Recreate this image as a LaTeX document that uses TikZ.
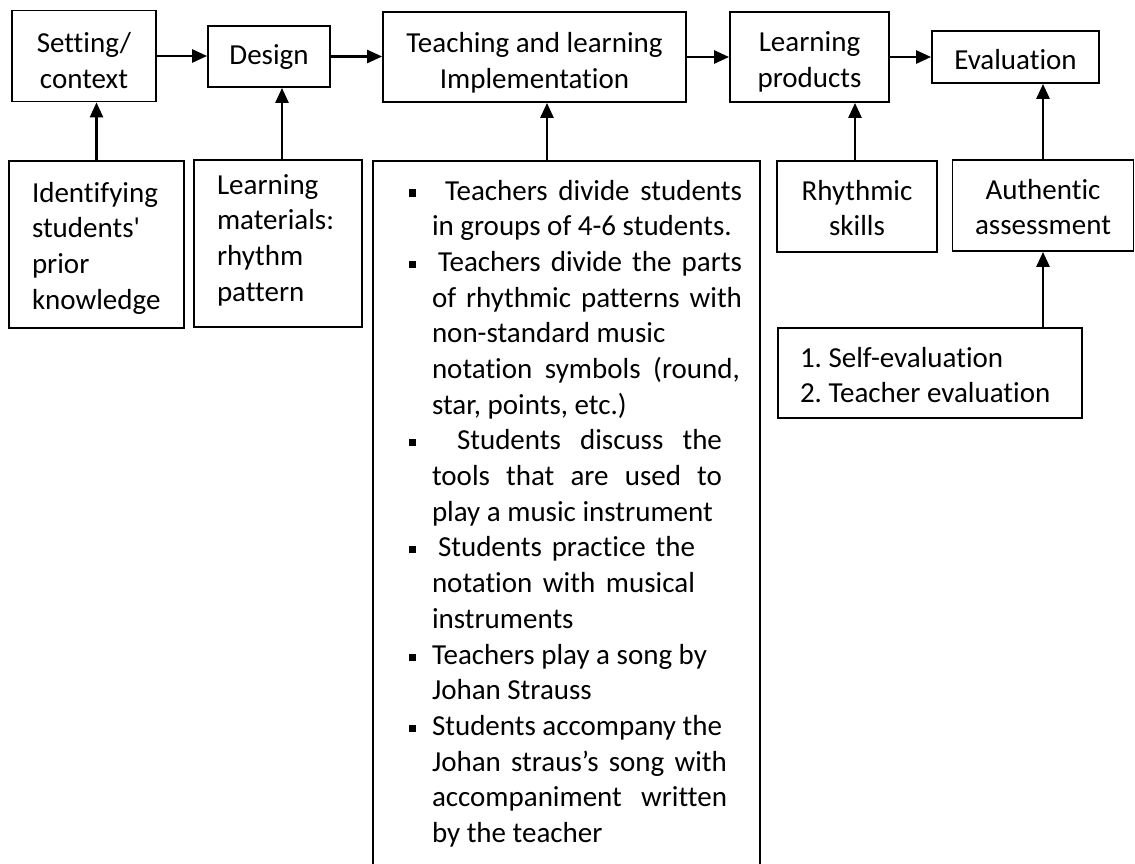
\documentclass[tikz,border=0pt]{standalone}
\usepackage{fontspec}
\setmainfont{Carlito}[Ligatures={TeX,NoCommon}]
\usetikzlibrary{arrows.meta}
\tikzstyle{arrow} = [line width=2.6pt, -{Triangle[length=15pt,width=13pt]}, black]

\newcommand{\bodyfont}{\fontsize{29pt}{35.7pt}\selectfont\frenchspacing}
% invisible struts that fix how high the text sits in its box
\newcommand{\padtext}[3]{\rule{0pt}{#1}#3\rule[-#2]{0pt}{#2}}
\newcommand{\sqbullet}{\hspace*{36pt}\rule[3.5pt]{7pt}{7pt}\hspace*{16pt}}
\newcommand{\plainline}[1]{\hspace*{59pt}#1}
\newcommand{\fitline}[2]{\hspace*{59pt}\makebox[#1][s]{#2}}

\begin{document}
\begin{tikzpicture}[x=1pt, y=-1pt,
    stagebox/.style={rectangle, draw=black, line width=1.8pt, align=flush center, inner sep=0pt, font=\bodyfont},
    notebox/.style={rectangle, draw=black, line width=1.8pt, align=flush left, inner ysep=0pt, font=\bodyfont},
]
\useasboundingbox (0,0) rectangle (1135,864);

% Stages of the model
\node[stagebox, minimum width=144pt, minimum height=91pt] (setting) at (84,56)
    {\padtext{37.7pt}{8pt}{Setting/\\context}};
\node[stagebox, minimum width=122pt, minimum height=61pt] (design) at (269,56.5)
    {\padtext{25pt}{8pt}{Design}};
\node[stagebox, minimum width=303pt, minimum height=90pt] (teaching) at (534.5,57)
    {\padtext{35.7pt}{8pt}{Teaching and learning\\Implementation}};
\node[stagebox, minimum width=159pt, minimum height=90pt] (products) at (809.5,57)
    {\padtext{33.7pt}{8pt}{Learning\\products}};
\node[stagebox, minimum width=167pt, minimum height=52pt] (evaluation) at (1015.5,57)
    {\padtext{34pt}{8pt}{Evaluation}};

% Inputs below the stages
\node[notebox, text width=129pt, inner xsep=23pt, minimum height=167pt] (ident) at (96.5,244.5)
    {\padtext{30.1pt}{8pt}{Identifying\\students\textquotesingle\\prior\\knowledge}};
\node[notebox, text width=122pt, inner xsep=23pt, minimum height=167pt] (materials) at (278,243.5)
    {\padtext{22pt}{13.9pt}{Learning\\materials:\\rhythm\\pattern}};
\node[stagebox, minimum width=160pt, minimum height=91pt] (rhythm) at (857,206.5)
    {\padtext{30.7pt}{8pt}{Rhythmic\\skills}};
\node[stagebox, minimum width=181pt, minimum height=91pt] (authentic) at (1043,205.5)
    {\padtext{30.7pt}{8pt}{Authentic\\assessment}};
\node[notebox, text width=260pt, inner xsep=22pt, minimum height=90pt] (selfeval) at (930,373)
    {\padtext{31.7pt}{8pt}{1. Self-evaluation\\2. Teacher evaluation}};

% Learning steps
\node[notebox, text width=387pt, inner xsep=0pt, minimum height=705pt] (steps) at (566.5,513.5) {%
\padtext{23.6pt}{8pt}{%
\sqbullet\hspace*{13pt}\makebox[297pt][s]{Teachers divide students}\\
\plainline{in groups of 4-6 students.}\\
\sqbullet\hspace*{6pt}\makebox[304pt][s]{Teachers divide the parts}\\
\fitline{310pt}{of rhythmic patterns with}\\
\plainline{non-standard music}\\
\fitline{308pt}{notation symbols (round,}\\
\plainline{star, points, etc.)}\\
\sqbullet\hspace*{25pt}\makebox[265pt][s]{Students discuss the}\\
\fitline{290pt}{tools that are used to}\\
\plainline{play a music instrument}\\
\sqbullet\hspace*{6pt}\makebox[257pt][s]{Students practice the}\\
\fitline{263pt}{notation with musical}\\
\plainline{instruments}\\
\sqbullet Teachers play a song by\\
\plainline{Johan Strauss}\\
\sqbullet Students accompany the\\
\fitline{295pt}{Johan straus’s song with}\\
\fitline{295pt}{accompaniment \ \ written}\\
\plainline{by the teacher}}};

% Flow between stages
\draw[arrow] (setting.east) -- (setting.east -| design.west);
\draw[arrow] (design.east) -- (design.east -| teaching.west);
\draw[arrow] (teaching.east) -- (teaching.east -| products.west);
\draw[arrow] (products.east) -- (products.east -| evaluation.west);

% Inputs into stages
\draw[arrow] (ident.north) -- (ident.north |- setting.south);
\draw[arrow] ([xshift=4pt]materials.north) -- ([xshift=4pt]materials.north |- design.south);
\draw[arrow] ([xshift=-19.5pt]steps.north) -- ([xshift=-19.5pt]steps.north |- teaching.south);
\draw[arrow] ([xshift=-2pt]rhythm.north) -- ([xshift=-2pt]rhythm.north |- products.south);
\draw[arrow] (authentic.north) -- (authentic.north |- evaluation.south);
\draw[arrow] (authentic.south |- selfeval.north) -- (authentic.south);

\end{tikzpicture}
\end{document}
